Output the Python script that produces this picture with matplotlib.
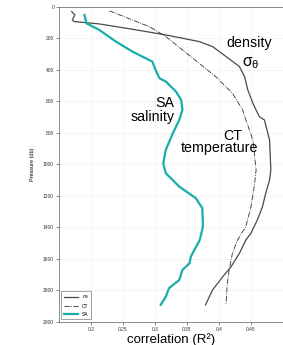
import matplotlib.pyplot as plt

# pressure (db) and correlation values
sa_p = [51, 104, 146, 220, 284, 337, 347, 400, 453, 474, 538, 591, 654, 718, 802, 908, 993,
        1056, 1141, 1215, 1278, 1395, 1480, 1586, 1628, 1670, 1734, 1786, 1840, 1892]
sa_r = [0.190, 0.193, 0.213, 0.239, 0.265, 0.291, 0.296, 0.301, 0.307, 0.317, 0.333, 0.341, 0.343,
        0.338, 0.328, 0.317, 0.313, 0.317, 0.338, 0.364, 0.374, 0.375, 0.370, 0.356, 0.354, 0.343,
        0.338, 0.322, 0.317, 0.309]

dens_p = [30, 51, 83, 93, 108, 142, 178, 220, 252, 315, 379, 443, 527, 612, 697, 718, 845, 1035,
          1099, 1183, 1268, 1352, 1437, 1480, 1564, 1649, 1713, 1797, 1892]
dens_r = [0.170, 0.175, 0.171, 0.174, 0.213, 0.265, 0.317, 0.369, 0.390, 0.411, 0.432, 0.440, 0.445,
          0.453, 0.463, 0.471, 0.479, 0.481, 0.479, 0.473, 0.468, 0.460, 0.450, 0.442, 0.432, 0.419,
          0.406, 0.390, 0.379]

ct_p = [25, 83, 125, 188, 273, 358, 443, 548, 654, 718, 845, 1035, 1141, 1268, 1395, 1480, 1564,
        1670, 1755, 1892]
ct_r = [0.229, 0.265, 0.291, 0.317, 0.343, 0.369, 0.395, 0.421, 0.437, 0.442, 0.453, 0.458, 0.455,
        0.450, 0.442, 0.429, 0.421, 0.416, 0.413, 0.411]

yticks = [0, 200, 400, 600, 800, 1000, 1200, 1400, 1600, 1800, 2000]
xticks = [0.2, 0.25, 0.3, 0.35, 0.4, 0.45]

plt.rcParams['font.family'] = ['Liberation Sans', 'DejaVu Sans']

fig = plt.figure(figsize=(2.83, 3.45), dpi=100)
ax = fig.add_axes([0.208, 0.067, 0.792, 0.913])

ax.plot(dens_r, dens_p, color='#4a4a4a', lw=0.9, label=r'$\mathregular{\sigma_\theta}$')
ax.plot(ct_r, ct_p, color='#303030', lw=0.6, linestyle='-.', label='CT')
ax.plot(sa_r, sa_p, color='#17aeac', lw=1.6, label='SA')

ax.set_xlim(0.15, 0.5)
ax.set_ylim(2000, 0)
ax.set_xticks(xticks)
ax.set_xticklabels(['0.2', '0.25', '0.3', '0.35', '0.4', '0.45'])
ax.set_yticks(yticks)
ax.tick_params(labelsize=3.5, length=2, width=0.4, colors='#333333', pad=1.5)
ax.grid(True, color='#ececec', lw=0.4)
for s in ax.spines.values():
    s.set_linewidth(0.6)
    s.set_color('#777777')

ax.set_ylabel('Pressure (db)', fontsize=4, labelpad=6)
ax.set_xlabel('correlation (R²)', fontsize=9.5, labelpad=1)

fs = 10.3
ax.text(0.447, 227, 'density', fontsize=fs, ha='center', va='center')
ax.text(0.450, 354, r'$\mathregular{\sigma_\theta}$', fontsize=fs + 1, ha='center', va='center')
ax.text(0.330, 610, 'SA', fontsize=fs, ha='right', va='center')
ax.text(0.330, 699, 'salinity', fontsize=fs, ha='right', va='center')
ax.text(0.421, 817, 'CT', fontsize=fs, ha='center', va='center')
ax.text(0.401, 897, 'temperature', fontsize=fs, ha='center', va='center')

leg = ax.legend(loc='lower left', fontsize=3.5, handlelength=3, borderpad=0.5,
                labelspacing=0.6, fancybox=False, edgecolor='#777777',
                bbox_to_anchor=(0.0, 0.0))
leg.get_frame().set_linewidth(0.6)

fig.savefig('out.png', dpi=100)
